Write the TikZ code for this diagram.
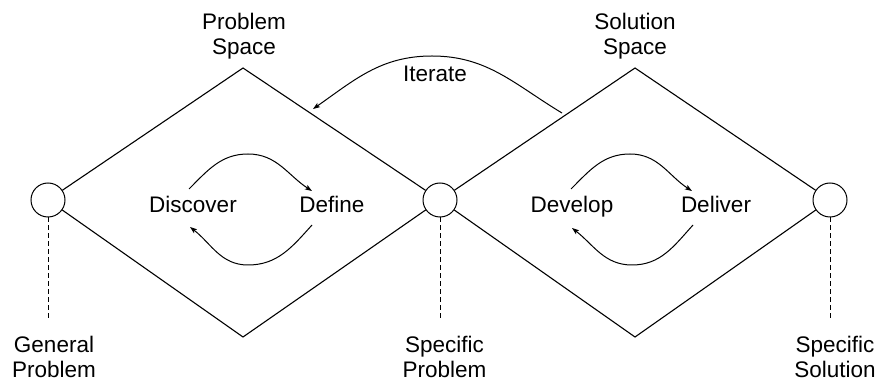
\documentclass[tikz,border=0pt]{standalone}
\usepackage{fontspec}
\setmainfont{Liberation Sans}
\usetikzlibrary{arrows.meta}
\begin{document}
\begin{tikzpicture}[x=1pt,y=1pt,
  every node/.style={font=\fontsize{22.5}{25}\selectfont, inner sep=0pt},
  lbl/.style={anchor=base},
  endpt/.style={circle, draw, line width=1pt, minimum size=34pt, fill=white},
  edge/.style={line width=1.1pt, line join=miter},
  leader/.style={line width=1pt, dash pattern=on 5pt off 3pt},
  arr/.style={line width=1pt, -{Stealth[length=7pt,width=5pt,inset=1.5pt]}}
]
\path[use as bounding box] (0,0) rectangle (880,380);

% diamond apexes
\coordinate (t1) at (243,312);
\coordinate (b1) at (243,43);
\coordinate (t2) at (635,312);
\coordinate (b2) at (635,43);

% end circles
\node[endpt] (c1) at (48,180) {};
\node[endpt] (c2) at (440,180) {};
\node[endpt] (c3) at (830,180) {};

% diamonds
\draw[edge] (c1) -- (t1) -- (c2);
\draw[edge] (c1) -- (b1) -- (c2);
\draw[edge] (c2) -- (t2) -- (c3);
\draw[edge] (c2) -- (b2) -- (c3);

% dashed leaders
\coordinate (d1) at (48,62);
\coordinate (d2) at (440,62);
\coordinate (d3) at (830,62);
\draw[leader] (c1.south) -- (d1);
\draw[leader] (c2.south) -- (d2);
\draw[leader] (c3.south) -- (d3);

% top labels
\node[lbl] (ps1) at (244,350) {Problem};
\node[lbl] (ps2) at (244,325) {Space};
\node[lbl] (ss1) at (635,350) {Solution};
\node[lbl] (ss2) at (635,325) {Space};

% bottom labels
\node[lbl] (gp1) at (54,28) {General};
\node[lbl] (gp2) at (54,3) {Problem};
\node[lbl] (sp1) at (444.5,28) {Specific};
\node[lbl] (sp2) at (444.5,3) {Problem};
\node[lbl] (so1) at (835,28) {Specific};
\node[lbl] (so2) at (835,3) {Solution};

% phase labels
\node[lbl] (disc) at (193,167) {Discover};
\node[lbl] (defi) at (332,167) {Define};
\node[lbl] (deve) at (572,167) {Develop};
\node[lbl] (deli) at (716,167) {Deliver};
\node[lbl] (iter) at (435,298) {Iterate};

% loop arrows, left diamond
\coordinate (la1) at (189,191);
\coordinate (la2) at (248,226);
\coordinate (la3) at (312,189);
\draw[arr] (la1) to[out=45,in=180] (la2) to[out=0,in=147] (la3);
\coordinate (lb1) at (312,155);
\coordinate (lb2) at (248,115);
\coordinate (lb3) at (190,153);
\draw[arr] (lb1) to[out=228,in=0] (lb2) to[out=180,in=-38] (lb3);

% loop arrows, right diamond
\coordinate (ra1) at (571,191);
\coordinate (ra2) at (630,226);
\coordinate (ra3) at (692,189);
\draw[arr] (ra1) to[out=45,in=180] (ra2) to[out=0,in=147] (ra3);
\coordinate (rb1) at (693,155);
\coordinate (rb2) at (632,115);
\coordinate (rb3) at (572,152);
\draw[arr] (rb1) to[out=228,in=0] (rb2) to[out=180,in=-38] (rb3);

% iterate arrow
\coordinate (it1) at (562,267);
\coordinate (it2) at (432,324);
\coordinate (it3) at (313,271);
\draw[arr] (it1) to[out=149,in=0] (it2) to[out=180,in=35] (it3);
\end{tikzpicture}
\end{document}
